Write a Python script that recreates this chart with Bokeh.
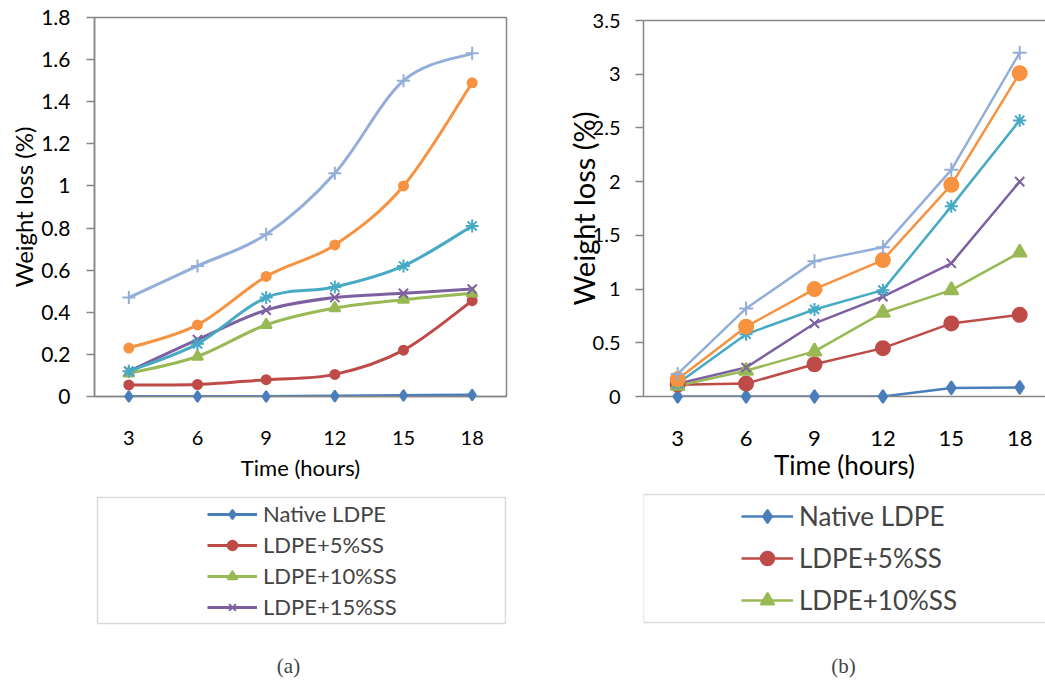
from bokeh.plotting import figure
from bokeh.models import (FixedTicker, LinearAxis, Legend, LegendItem, BoxAnnotation,
                          Label, Range1d, GlyphRenderer)
from bokeh.layouts import row, column
from bokeh.embed import file_html
from bokeh.resources import INLINE

# ---------------- data ----------------
hours = [3, 6, 9, 12, 15, 18]
hour_labels = ["3", "6", "9", "12", "15", "18"]

names = ["Native LDPE", "LDPE+5%SS", "LDPE+10%SS", "LDPE+15%SS"]

ticks_a = [0, 0.2, 0.4, 0.6, 0.8, 1.0, 1.2, 1.4, 1.6, 1.8]
tick_labels_a = ["0", "0.2", "0.4", "0.6", "0.8", "1", "1.2", "1.4", "1.6", "1.8"]
ticks_b = [0, 0.5, 1.0, 1.5, 2.0, 2.5, 3.0, 3.5]
tick_labels_b = ["0", "0.5", "1", "1.5", "2", "2.5", "3", "3.5"]

# panel (a)
native_a = [0.0, 0.0, 0.0, 0.002, 0.005, 0.007]
ss5_a = [0.055, 0.057, 0.08, 0.105, 0.22, 0.455]
ss10_a = [0.11, 0.19, 0.34, 0.42, 0.46, 0.49]
ss15_a = [0.12, 0.27, 0.41, 0.47, 0.49, 0.51]
teal_a = [0.12, 0.25, 0.47, 0.52, 0.62, 0.81]
orange_a = [0.23, 0.34, 0.57, 0.72, 1.00, 1.49]
lblue_a = [0.47, 0.62, 0.77, 1.06, 1.50, 1.63]

# panel (b)
native_b = [0.0, 0.0, 0.0, 0.0, 0.08, 0.085]
ss5_b = [0.11, 0.12, 0.30, 0.45, 0.68, 0.76]
ss10_b = [0.10, 0.24, 0.42, 0.78, 0.99, 1.34]
ss15_b = [0.12, 0.27, 0.68, 0.93, 1.24, 2.00]
teal_b = [0.12, 0.58, 0.81, 0.99, 1.77, 2.57]
orange_b = [0.16, 0.65, 1.00, 1.27, 1.97, 3.01]
lblue_b = [0.21, 0.82, 1.26, 1.39, 2.11, 3.20]

# ---------------- styles ----------------
colors = ["#4A7EBB", "#BE4B48", "#98B954", "#7D60A0", "#46AAC5", "#F69240", "#93AED8"]
markers = ["diamond", "circle", "triangle", "x", "asterisk", "circle", "cross"]
sizes_a = [11, 9, 11, 13, 13, 9, 13]
sizes_b = [13, 14, 14, 13, 13, 14, 14]
GRAY = "#868686"
FONT = "Lato"
HAS_CLIP = "clip" in GlyphRenderer.properties()

series_a = [native_a, ss5_a, ss10_a, ss15_a, teal_a, orange_a, lblue_a]
series_b = [native_b, ss5_b, ss10_b, ss15_b, teal_b, orange_b, lblue_b]


def smooth_segments(xs, ys):
    """Catmull-Rom style Bezier control points (Excel 'smoothed line')."""
    n = len(xs)
    out = {k: [] for k in ("x0", "y0", "x1", "y1", "cx0", "cy0", "cx1", "cy1")}
    for i in range(n - 1):
        a = i - 1 if i > 0 else i
        d = i + 2 if i + 2 < n else i + 1
        out["x0"].append(xs[i]); out["y0"].append(ys[i])
        out["x1"].append(xs[i + 1]); out["y1"].append(ys[i + 1])
        out["cx0"].append(xs[i] + (xs[i + 1] - xs[a]) / 6.0)
        out["cy0"].append(ys[i] + (ys[i + 1] - ys[a]) / 6.0)
        out["cx1"].append(xs[i + 1] - (xs[d] - xs[i]) / 6.0)
        out["cy1"].append(ys[i + 1] - (ys[d] - ys[i]) / 6.0)
    return out


def style_axes(p, ticks, labels, ytick_size, xtick_size, xtitle_size, ytitle_size):
    p.grid.visible = False
    p.xaxis.ticker = FixedTicker(ticks=hours)
    p.xaxis.major_label_overrides = dict(zip(hours, hour_labels))
    p.xaxis.major_tick_line_color = None
    p.xaxis.major_tick_out = 0
    p.xaxis.major_tick_in = 0
    p.xaxis.minor_tick_line_color = None
    p.xaxis.axis_line_color = GRAY
    p.xaxis.axis_line_width = 1.5
    p.xaxis.major_label_text_font = FONT
    p.xaxis.major_label_text_font_size = xtick_size
    p.xaxis.major_label_text_color = "black"
    p.xaxis.axis_label = "Time (hours)"
    p.xaxis.axis_label_text_font = FONT
    p.xaxis.axis_label_text_font_size = xtitle_size
    p.xaxis.axis_label_text_font_style = "normal"
    p.xaxis.axis_label_text_color = "black"

    p.yaxis.ticker = FixedTicker(ticks=ticks)
    p.yaxis.major_label_overrides = dict(zip(ticks, labels))
    p.yaxis.major_tick_line_color = GRAY
    p.yaxis.major_tick_line_width = 1.5
    p.yaxis.major_tick_in = 0
    p.yaxis.major_tick_out = 8
    p.yaxis.minor_tick_line_color = None
    p.yaxis.axis_line_color = GRAY
    p.yaxis.axis_line_width = 1.5
    p.yaxis.major_label_text_font = FONT
    p.yaxis.major_label_text_font_size = ytick_size
    p.yaxis.major_label_text_color = "black"
    p.yaxis.axis_label = "Weight loss (%)"
    p.yaxis.axis_label_text_font = FONT
    p.yaxis.axis_label_text_font_size = ytitle_size
    p.yaxis.axis_label_text_font_style = "normal"
    p.yaxis.axis_label_text_color = "black"


def legend_figure(width, height):
    f = figure(width=width, height=height, output_backend="svg", toolbar_location=None,
               x_axis_location=None, y_axis_location=None,
               x_range=Range1d(0, 1), y_range=Range1d(0, 1),
               min_border_left=0, min_border_right=0, min_border_top=0, min_border_bottom=0,
               background_fill_color="white", border_fill_color="white")
    f.outline_line_color = None
    f.grid.visible = False
    return f


def unclip(r):
    r.level = "overlay"
    if HAS_CLIP:
        r.clip = False


# ---------------- panel (a) chart ----------------
A_LEFT = 94
pa = figure(width=520, height=495, output_backend="svg", toolbar_location=None,
            x_range=Range1d(1.5, 19.5), y_range=Range1d(0, 1.8),
            min_border_left=A_LEFT, min_border_right=14, min_border_top=17, min_border_bottom=99,
            background_fill_color="white", border_fill_color="white")
pa.outline_line_color = GRAY
pa.outline_line_width = 1.5
style_axes(pa, ticks_a, tick_labels_a, "21px", "20px", "22px", "24px")
pa.yaxis.major_label_standoff = 16
pa.yaxis.axis_label_standoff = 0
pa.xaxis.major_label_standoff = 34
pa.xaxis.axis_label_standoff = 6

for ys, c, m, s in zip(series_a, colors, markers, sizes_a):
    seg = smooth_segments(hours, ys)
    pa.bezier(line_color=c, line_width=3, **seg)
    mr = pa.scatter(hours, ys, marker=m, size=s, fill_color=c, line_color=c, line_width=2)
    unclip(mr)

# ---------------- panel (a) legend + caption ----------------
la = legend_figure(520, 192)
leg_items_a = []
for n, ys, c, m in zip(names, series_a[:4], colors[:4], markers[:4]):
    lr = la.line(hours, ys, line_color=c, line_width=3, visible=False)
    mr = la.scatter(hours, ys, marker=m, size=9, fill_color=c, line_color=c, line_width=2,
                    visible=False)
    leg_items_a.append(LegendItem(label=n, renderers=[lr, mr]))
# legend location is relative to the (column-aligned) frame, whose left edge is at A_LEFT
leg_a = Legend(items=leg_items_a, location=(207 - A_LEFT, 67), orientation="vertical",
               background_fill_alpha=0, border_line_alpha=0, padding=0, margin=0,
               inactive_fill_alpha=0,
               spacing=4, glyph_width=50, glyph_height=24, label_height=24,
               label_standoff=6, label_text_font=FONT, label_text_font_size="22px")
la.add_layout(leg_a)
la.add_layout(BoxAnnotation(left=97, right=505, top=2, bottom=128,
                            left_units="canvas", right_units="canvas",
                            top_units="canvas", bottom_units="canvas",
                            fill_alpha=0, line_color=GRAY, line_width=1.5))
la.add_layout(Label(x=288, y=170, x_units="canvas", y_units="canvas", text="(a)",
                    text_align="center", text_baseline="middle",
                    text_font="Liberation Serif", text_font_size="21px"))

# ---------------- panel (b) chart ----------------
B_LEFT = 123
FRAME_B_W = 525 - B_LEFT
SLOT_B = 68.4
xb_end = 1.5 + 3 * FRAME_B_W / SLOT_B
pb = figure(width=525, height=492, output_backend="svg", toolbar_location=None,
            x_range=Range1d(1.5, xb_end), y_range=Range1d(0, 3.5),
            min_border_left=B_LEFT, min_border_right=0, min_border_top=20, min_border_bottom=96,
            background_fill_color="white", border_fill_color="white")
pb.outline_line_color = None
style_axes(pb, ticks_b, tick_labels_b, "20px", "22px", "26px", "29px")
pb.yaxis.major_label_standoff = 15
pb.yaxis.axis_label_standoff = -11
pb.xaxis.major_label_standoff = 34
pb.xaxis.axis_label_standoff = 0

top_axis = LinearAxis(ticker=FixedTicker(ticks=[]), axis_line_color=GRAY, axis_line_width=1.5,
                      major_tick_in=0, major_tick_out=0, major_label_standoff=0,
                      major_tick_line_color=None, minor_tick_line_color=None)
pb.add_layout(top_axis, "above")

for ys, c, m, s in zip(series_b, colors, markers, sizes_b):
    pb.line(hours, ys, line_color=c, line_width=2.5)
    mr = pb.scatter(hours, ys, marker=m, size=s, fill_color=c, line_color=c, line_width=2)
    unclip(mr)

# ---------------- panel (b) legend + caption ----------------
lb = legend_figure(525, 195)
leg_items_b = []
for n, ys, c, m in zip(names[:3], series_b[:3], colors[:3], markers[:3]):
    lr = lb.line(hours, ys, line_color=c, line_width=2.5, visible=False)
    mr = lb.scatter(hours, ys, marker=m, size=14, fill_color=c, line_color=c, line_width=2,
                    visible=False)
    leg_items_b.append(LegendItem(label=n, renderers=[lr, mr]))
leg_b = Legend(items=leg_items_b, location=(221 - B_LEFT, 70), orientation="vertical",
               background_fill_alpha=0, border_line_alpha=0, padding=0, margin=0,
               inactive_fill_alpha=0,
               spacing=8, glyph_width=52, glyph_height=34, label_height=34,
               label_standoff=6, label_text_font=FONT, label_text_font_size="26px")
lb.add_layout(leg_b)
lb.add_layout(BoxAnnotation(left=123, right=600, top=2, bottom=130,
                            left_units="canvas", right_units="canvas",
                            top_units="canvas", bottom_units="canvas",
                            fill_alpha=0, line_color=GRAY, line_width=1.5))
lb.add_layout(Label(x=323, y=173, x_units="canvas", y_units="canvas", text="(b)",
                    text_align="center", text_baseline="middle",
                    text_font="Liberation Serif", text_font_size="21px"))

layout = row(column(pa, la), column(pb, lb))
open("out.html", "w").write(file_html(layout, INLINE))
